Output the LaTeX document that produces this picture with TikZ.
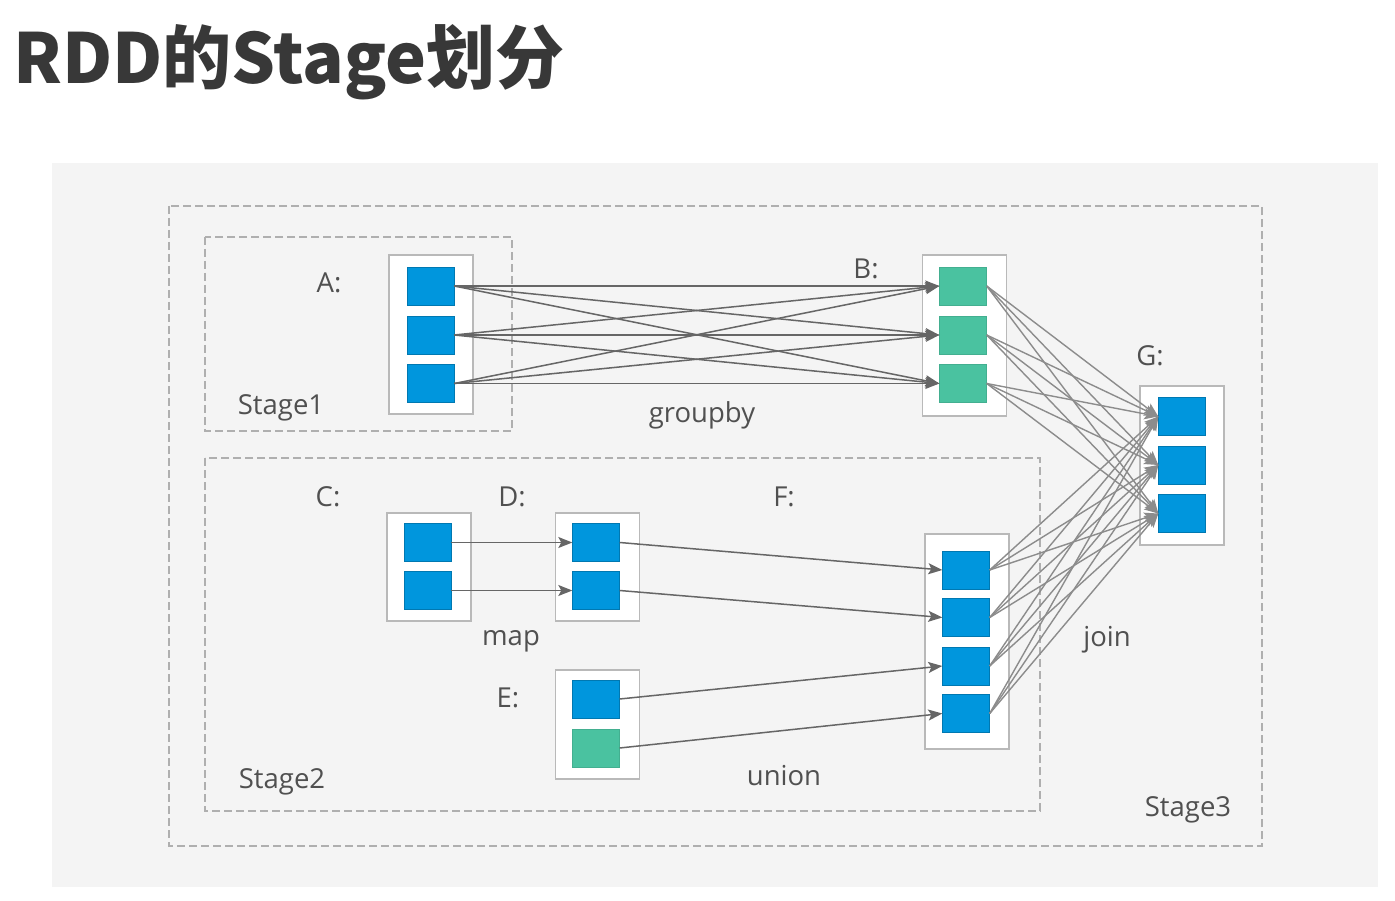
\documentclass[tikz,border=0pt]{standalone}
\usepackage{fontspec}
\setmainfont{Open Sans}
\newfontfamily\titlefont{Noto Sans CJK SC}
\usetikzlibrary{arrows.meta}

\definecolor{bgrey}{RGB}{244,244,244}
\definecolor{rddblue}{RGB}{0,150,221}
\definecolor{rddteal}{RGB}{74,194,160}
\definecolor{txtgrey}{RGB}{80,80,80}
\definecolor{framegrey}{RGB}{185,185,185}
\definecolor{dashgrey}{RGB}{175,175,175}

\tikzset{
  rddbox/.style={draw=framegrey,fill=white,line width=1.3pt,minimum width=84pt,inner sep=0pt},
  part/.style={fill=rddblue,draw=rddblue!80!black,line width=0.4pt,minimum width=47pt,minimum height=38pt,inner sep=0pt},
  tpart/.style={part,fill=rddteal,draw=rddteal!90!black},
  lbl/.style={text=txtgrey,font=\fontsize{27.5}{32}\selectfont,inner sep=0pt,yshift=-3pt},
  stagebox/.style={draw=dashgrey,line width=1.3pt,dash pattern=on 8pt off 4pt},
  dep/.style={draw=black!60,line width=1.5pt,-{Stealth[length=14pt,width=11pt,inset=3pt]}},
  wide/.style={draw=black!45,line width=1.4pt,-{Stealth[length=14pt,width=11pt,inset=3pt]}}
}

\begin{document}
\begin{tikzpicture}[x=1pt,y=-1pt]

\useasboundingbox (0,0) rectangle (1395,901);
\fill[white] (0,0) rectangle (1395,901);
\fill[bgrey] (52,163) rectangle (1378,887);

\node[anchor=west,text=black!78,inner sep=0pt] (title) at (13,62)
  {\titlefont\bfseries\fontsize{69}{74}\selectfont RDD的Stage划分};

\draw[stagebox] (169,206) rectangle (1262,846);
\draw[stagebox] (205,237) rectangle (512,431);
\draw[stagebox] (205,458) rectangle (1040,811);

\node[rddbox,minimum height=159pt] (boxa) at (431,334.5) {};
\node[rddbox,minimum height=161pt] (boxb) at (964.5,335.5) {};
\node[rddbox,minimum height=159pt] (boxg) at (1182,465.5) {};
\node[rddbox,minimum height=108pt] (boxc) at (429,567) {};
\node[rddbox,minimum height=108pt] (boxd) at (597.5,567) {};
\node[rddbox,minimum height=109pt] (boxe) at (597.5,724.5) {};
\node[rddbox,minimum height=215pt] (boxf) at (967,641.5) {};

\node[part] (a1) at (430.5,286) {};
\node[part] (a2) at (430.5,335) {};
\node[part] (a3) at (430.5,383.5) {};
\node[tpart] (b1) at (963,286) {};
\node[tpart] (b2) at (963,335) {};
\node[tpart] (b3) at (963,383.5) {};
\node[part] (g1) at (1182,416.5) {};
\node[part] (g2) at (1182,465) {};
\node[part] (g3) at (1182,513.5) {};
\node[part] (c1) at (427.5,542.5) {};
\node[part] (c2) at (427.5,590.5) {};
\node[part] (d1) at (596,542.5) {};
\node[part] (d2) at (596,590.5) {};
\node[part] (e1) at (596,699) {};
\node[tpart] (e2) at (596,748) {};
\node[part] (f1) at (966,570) {};
\node[part] (f2) at (966,617.5) {};
\node[part] (f3) at (966,666) {};
\node[part] (f4) at (966,713.5) {};

\node[lbl] (la) at (329,280) {A:};
\node[lbl] (lb) at (866,266) {B:};
\node[lbl] (lg) at (1150,353) {G:};
\node[lbl] (lc) at (328,494) {C:};
\node[lbl] (ld) at (512,494) {D:};
\node[lbl] (lf) at (784,494) {F:};
\node[lbl] (le) at (508,695) {E:};
\node[lbl] (groupby) at (702,412) {groupby};
\node[lbl] (map) at (511,638) {map};
\node[lbl] (union) at (784,773) {union};
\node[lbl] (join) at (1107,637) {join};
\node[lbl] (stage1) at (281,405) {Stage1};
\node[lbl] (stage2) at (282,779) {Stage2};
\node[lbl] (stage3) at (1188,807) {Stage3};

\foreach \s in {a1,a2,a3}
  \foreach \t in {b1,b2,b3}
    \draw[dep] (\s.east) -- (\t.west);
\foreach \s in {b1,b2,b3,f1,f2,f3,f4}
  \foreach \t in {g1,g2,g3}
    \draw[wide] (\s.east) -- (\t.west);

\draw[dep] (c1) -- (d1);
\draw[dep] (c2) -- (d2);
\draw[dep] (d1.east) -- (f1.west);
\draw[dep] (d2.east) -- (f2.west);
\draw[dep] (e1.east) -- (f3.west);
\draw[dep] (e2.east) -- (f4.west);

\end{tikzpicture}
\end{document}
